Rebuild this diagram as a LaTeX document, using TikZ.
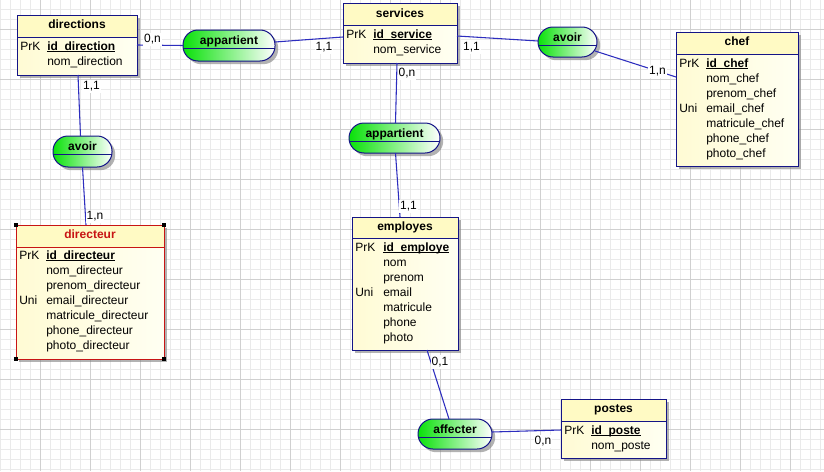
\documentclass[tikz,border=0pt]{standalone}
\usepackage{fontspec}
\setmainfont{Liberation Sans}
\usetikzlibrary{calc,shadows}
\definecolor{navy}{RGB}{20,20,135}
\definecolor{linkblue}{RGB}{45,45,190}
\definecolor{selred}{RGB}{200,20,20}
\definecolor{gridminor}{RGB}{234,234,234}
\definecolor{gridmajor}{RGB}{208,208,208}
\definecolor{headfill}{RGB}{255,250,196}
\definecolor{bodyleft}{RGB}{255,251,212}
\definecolor{bodyright}{RGB}{255,255,242}
\definecolor{relgreen}{RGB}{10,225,10}
\newcommand\keyul[1]{\setbox0\hbox{\textbf{#1}}\rlap{\rule[-1.3pt]{\wd0}{0.65pt}}\box0}
\tikzset{
  entbody/.style={anchor=north west, inner sep=0pt, outer sep=0pt,
    left color=bodyleft, right color=bodyright,
    drop shadow={shadow xshift=2.4pt, shadow yshift=-2.4pt, opacity=0.6, fill=gray}},
  relbody/.style={anchor=north west, inner sep=0pt, outer sep=0pt,
    rounded corners=11.25pt, draw=navy, line width=0.75pt,
    left color=relgreen, middle color=relgreen!40!white, right color=white,
    drop shadow={shadow xshift=2.4pt, shadow yshift=-2.4pt, opacity=0.6, fill=gray}},
  txt/.style={inner sep=0pt, font=\fontsize{9}{11}\selectfont, text height=6.5pt, text depth=2pt},
  attr/.style={txt, anchor=west},
  etitle/.style={txt, font=\fontsize{9}{11}\selectfont\bfseries},
  reltext/.style={txt, font=\fontsize{9}{11}\selectfont\bfseries},
  card/.style={txt, fill=white, inner sep=0.8pt},
  link/.style={draw=linkblue, line width=0.8pt},
}
\newcommand\entity[7]{%
  \node[entbody, minimum width=#4*0.75pt, minimum height=#5*0.75pt] (#1) at (#2,#3) {};
  \fill[headfill] (#1.north west) rectangle ($(#1.north east)+(0,#6)$);
  \draw[#7, line width=0.75pt] ($(#1.north west)+(0,#6)$) -- ($(#1.north east)+(0,#6)$);
  \draw[#7, line width=0.75pt] (#1.north west) rectangle (#1.south east);
}
\newcommand\relation[6]{%
  \node[relbody, minimum width=#4*0.75pt, minimum height=#5*0.75pt] (#1) at (#2,#3) {};
  \draw[navy, line width=0.75pt] ($(#1.north west)+(0,18)$) -- ($(#1.north east)+(0,18)$);
  \node[reltext] (#1t) at ($(#1.north)+(0,11)$) {#6};
}
\begin{document}
\begin{tikzpicture}[x=0.75pt, y=-0.75pt]
\useasboundingbox (0,0) rectangle (824,471);
\fill[white] (0,0) rectangle (824,471);
% grid
\foreach \gx in {0,10,...,820} \draw[gridminor, line width=0.75pt] (\gx,0) -- (\gx,471);
\foreach \gy in {9,19,...,469} \draw[gridminor, line width=0.75pt] (0,\gy) -- (824,\gy);
\foreach \gx in {40,90,...,790} \draw[gridmajor, line width=0.75pt] (\gx,0) -- (\gx,471);
\foreach \gy in {29,79,...,429} \draw[gridmajor, line width=0.75pt] (0,\gy) -- (824,\gy);

% entities
\entity{dir}{17}{15}{120}{60}{22}{navy}
\node[etitle] (dirT) at (77,25.5) {directions};
\node[attr] (dirK) at (20,47.5) {PrK};
\node[attr] (dirA1) at (47,47.5) {\keyul{id\_direction}};
\node[attr] (dirA2) at (47,62.5) {nom\_direction};

\entity{svc}{343}{3}{114}{60}{22}{navy}
\node[etitle] (svcT) at (400,14) {services};
\node[attr] (svcK) at (346,35.5) {PrK};
\node[attr] (svcA1) at (373,35.5) {\keyul{id\_service}};
\node[attr] (svcA2) at (373,50.5) {nom\_service};

\entity{chef}{676}{32}{122}{134}{22}{navy}
\node[etitle] (chefT) at (737,42.5) {chef};
\node[attr] (chefK) at (679,64) {PrK};
\node[attr] (chefU) at (679,109) {Uni};
\node[attr] (chefA1) at (706,64) {\keyul{id\_chef}};
\node[attr] (chefA2) at (706,79) {nom\_chef};
\node[attr] (chefA3) at (706,94) {prenom\_chef};
\node[attr] (chefA4) at (706,109) {email\_chef};
\node[attr] (chefA5) at (706,124) {matricule\_chef};
\node[attr] (chefA6) at (706,139) {phone\_chef};
\node[attr] (chefA7) at (706,154) {photo\_chef};

\entity{dirr}{16}{225}{148}{134}{22}{selred}
\node[etitle, text=selred] (dirrT) at (90,235.5) {directeur};
\node[attr] (dirrK) at (19,256.5) {PrK};
\node[attr] (dirrU) at (19,301.5) {Uni};
\node[attr] (dirrA1) at (46,256.5) {\keyul{id\_directeur}};
\node[attr] (dirrA2) at (46,271.5) {nom\_directeur};
\node[attr] (dirrA3) at (46,286.5) {prenom\_directeur};
\node[attr] (dirrA4) at (46,301.5) {email\_directeur};
\node[attr] (dirrA5) at (46,316.5) {matricule\_directeur};
\node[attr] (dirrA6) at (46,331.5) {phone\_directeur};
\node[attr] (dirrA7) at (46,346.5) {photo\_directeur};
\foreach \hx/\hy in {16/225,164/225,16/359,164/359}
  \fill[black] ($(\hx,\hy)+(-2,-2)$) rectangle ($(\hx,\hy)+(2,2)$);

\entity{emp}{352}{217}{106}{133}{21}{navy}
\node[etitle] (empT) at (405,227) {employes};
\node[attr] (empK) at (355,248) {PrK};
\node[attr] (empU) at (355,293) {Uni};
\node[attr] (empA1) at (383,248) {\keyul{id\_employe}};
\node[attr] (empA2) at (383,263) {nom};
\node[attr] (empA3) at (383,278) {prenom};
\node[attr] (empA4) at (383,293) {email};
\node[attr] (empA5) at (383,308) {matricule};
\node[attr] (empA6) at (383,323) {phone};
\node[attr] (empA7) at (383,338) {photo};

\entity{post}{561}{399}{105}{59}{22}{navy}
\node[etitle] (postT) at (613.5,409.5) {postes};
\node[attr] (postK) at (564,431) {PrK};
\node[attr] (postA1) at (591,431) {\keyul{id\_poste}};
\node[attr] (postA2) at (591,446) {nom\_poste};

% relations
\relation{app1}{183}{30}{92}{31}{appartient}
\relation{avR}{538}{27}{59}{30}{avoir}
\relation{avL}{53}{136}{59}{31}{avoir}
\relation{app2}{349}{123}{91}{30}{appartient}
\relation{aff}{418}{419}{74}{30}{affecter}

% connectors
\draw[link] (dir.east) -- (app1.west);
\draw[link] ($(app1.east)+(0,-3.5)$) -- ($(svc.west)+(0,4)$);
\draw[link] ($(svc.east)+(0,3)$) -- ($(avR.west)+(0,-1)$);
\draw[link] ($(avR.east)+(-2,9)$) -- ($(chef.west)+(0,-22)$);
\draw[link] ($(dir.south)+(1,0)$) -- ($(avL.north)+(-2,0)$);
\draw[link] (avL.south) -- ($(dirr.north)+(-4,0)$);
\draw[link] ($(svc.south)+(-3,0)$) -- ($(app2.north)+(1,0)$);
\draw[link] ($(app2.south)+(1,0)$) -- ($(emp.north)+(-5,0)$);
\draw[link] ($(emp.south)+(22,0)$) -- ($(aff.north)+(-6,0)$);
\draw[link] ($(aff.east)+(0,-2)$) -- ($(post.west)+(0,1.5)$);

% cardinalities
\node[card] (c1) at (152.5,39.5) {0,n};
\node[card] (c2) at (324,47) {1,1};
\node[card] (c3) at (471.5,47) {1,1};
\node[card] (c4) at (657.5,71.5) {1,n};
\node[card] (c5) at (91.5,86.5) {1,1};
\node[card] (c6) at (95,216.5) {1,n};
\node[card] (c7) at (407,73) {0,n};
\node[card] (c8) at (408.5,206.5) {1,1};
\node[card] (c9) at (440,362) {0,1};
\node[card] (c10) at (543,441.5) {0,n};
\end{tikzpicture}
\end{document}
